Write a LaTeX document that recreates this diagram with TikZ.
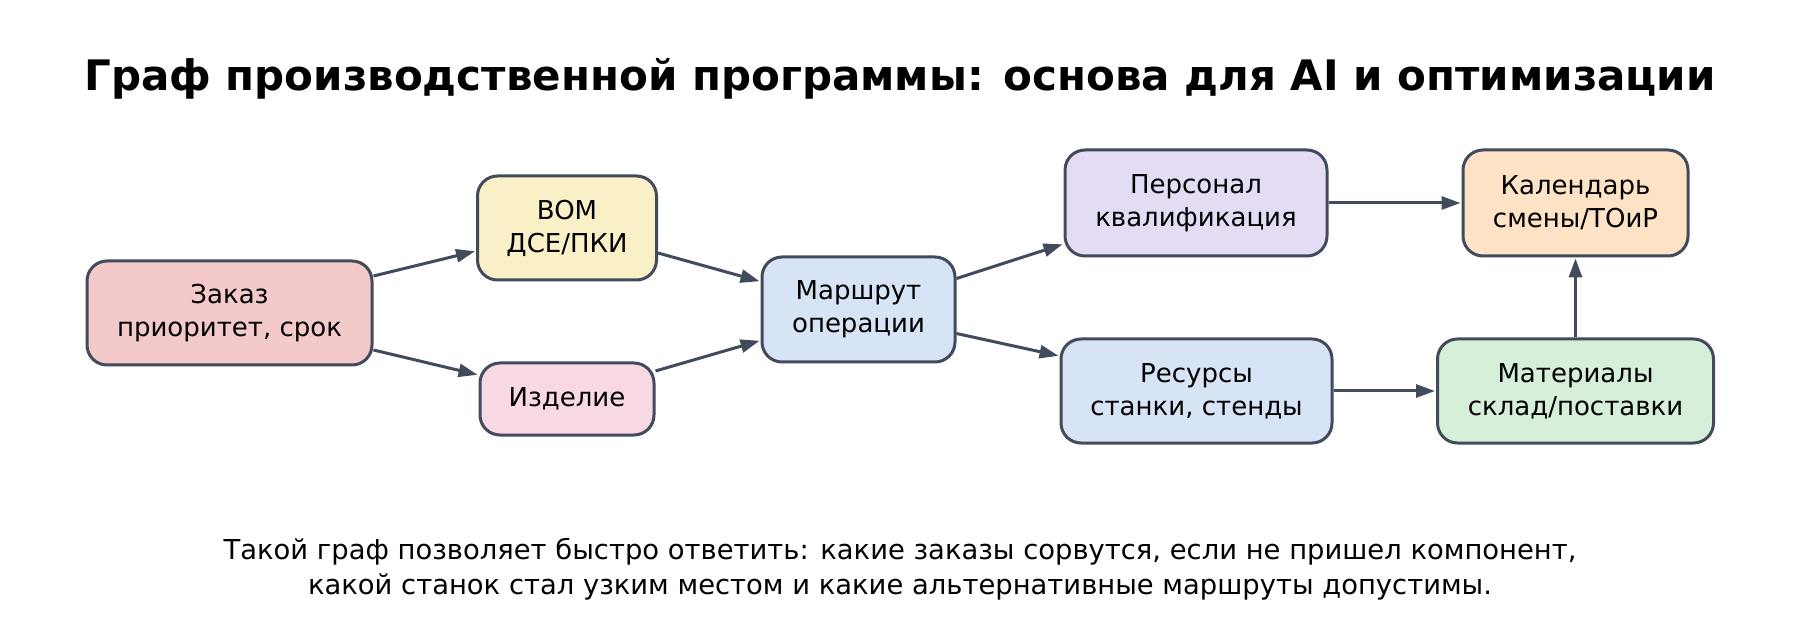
\documentclass[tikz,border=0pt]{standalone}
\usepackage{fontspec}
\setmainfont{DejaVu Sans}
\usetikzlibrary{arrows.meta,calc}
\definecolor{edgec}{HTML}{414B5C}
\definecolor{czak}{HTML}{F3C9C9}
\definecolor{cbom}{HTML}{FAF0C8}
\definecolor{cizd}{HTML}{F8D8E3}
\definecolor{cmar}{HTML}{D6E4F6}
\definecolor{cper}{HTML}{E3DCF4}
\definecolor{ckal}{HTML}{FDE2C6}
\definecolor{cmat}{HTML}{D5EFD9}
\tikzset{
  box/.style={draw=edgec, line width=3pt, rounded corners=20pt, align=center,
    inner sep=0pt, font=\fontsize{26}{33}\selectfont, text=black},
  arr/.style={draw=edgec, line width=3pt, -{Triangle[length=19pt,width=13pt]}, shorten >=1pt}
}
\begin{document}
\begin{tikzpicture}[x=1pt,y=-1pt]
\useasboundingbox (0,0) rectangle (1800,644);
\node[font=\fontsize{42}{50}\selectfont\bfseries] (title) at (900,79) {Граф производственной программы: основа для AI и оптимизации};
\node[box, fill=czak, minimum width=285pt, minimum height=104pt] (zak) at (229.5,313) {Заказ\\приоритет, срок};
\node[box, fill=cbom, minimum width=179pt, minimum height=104pt] (bom) at (567,228) {BOM\\ДСЕ/ПКИ};
\node[box, fill=cizd, minimum width=174pt, minimum height=72pt] (izd) at (567,399) {Изделие};
\node[box, fill=cmar, minimum width=193pt, minimum height=105pt] (mar) at (858.5,309.5) {Маршрут\\операции};
\node[box, fill=cper, minimum width=262pt, minimum height=106pt] (per) at (1196,203) {Персонал\\квалификация};
\node[box, fill=cmar, minimum width=271pt, minimum height=104pt] (res) at (1196.5,391) {Ресурсы\\станки, стенды};
\node[box, fill=ckal, minimum width=225pt, minimum height=106pt] (kal) at (1575.5,203) {Календарь\\смены/ТОиР};
\node[box, fill=cmat, minimum width=276pt, minimum height=104pt] (mat) at (1575.5,391) {Материалы\\склад/поставки};
\draw[arr] ([yshift=37pt]zak.east) -- ([yshift=-23pt]bom.west);
\draw[arr] ([yshift=-37pt]zak.east) -- ([yshift=24pt]izd.west);
\draw[arr] ([yshift=-25pt]bom.east) -- ([yshift=28pt]mar.west);
\draw[arr] ([yshift=28pt]izd.east) -- ([yshift=-31pt]mar.west);
\draw[arr] ([yshift=31pt]mar.east) -- ([yshift=-41pt]per.west);
\draw[arr] ([yshift=-24pt]mar.east) -- ([yshift=35pt]res.west);
\draw[arr] (per.east) -- (kal.west);
\draw[arr] (res.east) -- (mat.west);
\draw[arr] (mat.north) -- (kal.south);
\node[align=center, font=\fontsize{27.4}{34.5}\selectfont] (note) at (900,569) {Такой граф позволяет быстро ответить: какие заказы сорвутся, если не пришел компонент,\\какой станок стал узким местом и какие альтернативные маршруты допустимы.};
\end{tikzpicture}
\end{document}
